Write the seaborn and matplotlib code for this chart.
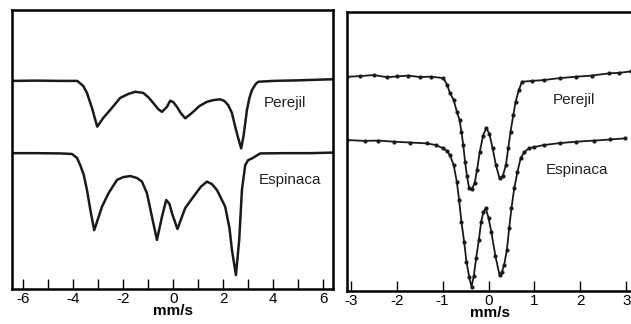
import numpy as np
import pandas as pd
import matplotlib
matplotlib.use("Agg")
import matplotlib.pyplot as plt
from matplotlib.ticker import MultipleLocator
import seaborn as sns

# ---- Data (velocity mm/s, transmission a.u.) ----
# Left panel: wide velocity range
perejil_w_v = [-6.45, -5.5, -4.5, -3.84, -3.6, -3.45, -3.25, -3.04, -2.8, -2.52, -2.12, -1.8,
               -1.52, -1.2, -1.0, -0.8, -0.6, -0.45, -0.25, -0.12, 0.0, 0.15, 0.3, 0.48, 0.65,
               0.8, 1.05, 1.35, 1.6, 1.88, 2.05, 2.2, 2.35, 2.48, 2.6, 2.72, 2.82, 2.95, 3.05,
               3.15, 3.3, 3.41, 4.0, 5.0, 6.4]
perejil_w_t = [74.6, 74.7, 74.6, 74.6, 72.8, 70.3, 64.9, 58.2, 61.3, 64.2, 68.5, 69.9,
               70.7, 70.3, 68.8, 66.7, 64.5, 63.5, 65.3, 67.5, 67.0, 65.3, 63.1, 61.2, 62.4,
               63.5, 65.6, 67.1, 67.7, 68.0, 67.4, 65.9, 63.1, 58.2, 54.1, 50.4, 55.2, 64.2, 68.5,
               71.3, 73.5, 74.3, 74.6, 74.8, 75.2]

espinaca_w_v = [-6.45, -5.5, -4.5, -4.05, -3.85, -3.72, -3.58, -3.45, -3.3, -3.16, -3.0, -2.85,
                -2.59, -2.25, -2.0, -1.72, -1.45, -1.25, -1.05, -0.85, -0.65, -0.45, -0.28,
                -0.15, -0.05, 0.17, 0.3, 0.48, 0.81, 1.1, 1.35, 1.55, 1.75, 2.08, 2.25, 2.35,
                2.51, 2.64, 2.75, 2.88, 3.0, 3.15, 3.48, 4.5, 5.5, 6.4]
espinaca_w_t = [48.7, 48.7, 48.6, 48.4, 47.0, 44.4, 40.9, 35.5, 27.6, 21.1, 25.4, 29.5,
                34.3, 39.1, 40.1, 40.5, 39.8, 38.5, 34.3, 25.9, 17.6, 25.9, 31.9,
                30.5, 27.2, 21.5, 24.7, 29.0, 33.1, 36.6, 38.5, 37.6, 35.5, 29.5, 21.9, 14.0,
                5.0, 17.6, 35.5, 44.4, 46.2, 46.8, 48.6, 48.7, 48.7, 48.9]

# Right panel: narrow velocity range
perejil_n_v = [-3.08, -2.8, -2.5, -2.2, -2.0, -1.75, -1.5, -1.25, -0.98, -0.9, -0.84, -0.76,
               -0.69, -0.63, -0.59, -0.55, -0.51, -0.47, -0.42, -0.36, -0.3, -0.25, -0.19,
               -0.12, -0.05, 0.02, 0.09, 0.16, 0.24, 0.31, 0.38, 0.43, 0.48, 0.54, 0.59,
               0.66, 0.73, 0.95, 1.2, 1.55, 1.91, 2.25, 2.62, 2.85, 3.1]
perejil_n_t = [76.8, 77.0, 77.4, 76.6, 76.9, 77.2, 76.7, 76.8, 76.3, 73.8, 71.0, 68.5,
               64.3, 61.3, 57.1, 52.3, 46.3, 41.2, 36.8, 36.6, 38.7, 43.4, 49.9,
               55.6, 58.4, 56.3, 51.1, 45.2, 40.4, 41.2, 45.2, 51.3, 57.1, 63.1, 67.8,
               72.0, 75.0, 75.3, 75.6, 76.3, 76.8, 77.2, 78.0, 78.2, 78.7]

espinaca_n_v = [-3.08, -2.7, -2.4, -2.05, -1.7, -1.34, -1.15, -0.98, -0.91, -0.84, -0.76,
                -0.69, -0.64, -0.59, -0.53, -0.48, -0.42, -0.37, -0.32, -0.27, -0.21, -0.16,
                -0.11, -0.06, 0.0, 0.06, 0.15, 0.24, 0.29, 0.34, 0.4, 0.45, 0.5, 0.56, 0.63,
                0.7, 0.78, 0.88, 1.0, 1.2, 1.55, 1.91, 2.3, 2.65, 2.98]
espinaca_n_t = [54.1, 53.8, 53.9, 53.5, 53.2, 52.9, 52.3, 51.1, 50.2, 48.7, 45.2,
                39.2, 32.6, 24.8, 17.6, 10.5, 5.0, 1.5, 5.4, 11.7, 18.3, 24.8,
                28.3, 29.6, 26.2, 21.3, 12.5, 5.7, 6.8, 9.3, 14.7, 22.5, 29.7, 36.8, 42.7,
                47.6, 49.8, 51.1, 51.6, 52.3, 53.0, 53.5, 53.9, 54.3, 54.7]

sample_names = ["Perejil", "Espinaca"]
left_ticks = [-6, -4, -2, 0, 2, 4, 6]
right_ticks = [-3, -2, -1, 0, 1, 2, 3]
x_label = "mm/s"

# ---- Build tables ----
wide = pd.concat([
    pd.DataFrame({"v": perejil_w_v, "t": perejil_w_t, "sample": sample_names[0]}),
    pd.DataFrame({"v": espinaca_w_v, "t": espinaca_w_t, "sample": sample_names[1]}),
])
narrow = pd.concat([
    pd.DataFrame({"v": perejil_n_v, "t": perejil_n_t, "sample": sample_names[0]}),
    pd.DataFrame({"v": espinaca_n_v, "t": espinaca_n_t, "sample": sample_names[1]}),
])

sns.set_theme(style="ticks")
plt.rcParams["font.family"] = ["Liberation Sans", "DejaVu Sans"]

fig = plt.figure(figsize=(6.31, 3.24), dpi=100)
axL = fig.add_axes([0.019, 0.108, 0.509, 0.861])
axR = fig.add_axes([0.550, 0.102, 0.452, 0.861])

pal = {sample_names[0]: "#1a1a1a", sample_names[1]: "#1a1a1a"}
sns.lineplot(data=wide, x="v", y="t", hue="sample", palette=pal, ax=axL,
             legend=False, linewidth=1.8, sort=False, estimator=None)
sns.lineplot(data=narrow, x="v", y="t", hue="sample", palette=pal, ax=axR,
             legend=False, linewidth=1.3, sort=False, estimator=None,
             marker="o", markersize=3, markeredgewidth=0)

axL.set_xlim(-6.45, 6.4)
axL.set_ylim(0, 100)
axR.set_xlim(-3.08, 3.13)
axR.set_ylim(0, 100)

for ax, ticks in ((axL, left_ticks), (axR, right_ticks)):
    ax.set_xticks(ticks)
    ax.set_xticklabels([str(t) for t in ticks])
    ax.set_yticks([])
    ax.set_ylabel("")
    ax.set_xlabel(x_label, fontsize=11, fontweight="bold", labelpad=-1, color="black")
    ax.tick_params(axis="x", which="both", direction="in", length=7, width=1,
                   labelsize=11, pad=2, colors="black")
    for s in ax.spines.values():
        s.set_visible(True)
        s.set_linewidth(1.8)
        s.set_color("black")

axL.xaxis.set_minor_locator(MultipleLocator(1))

axL.text(4.48, 66.7, sample_names[0], fontsize=11, ha="center", va="center", color="#222222")
axL.text(4.67, 39.1, sample_names[1], fontsize=11, ha="center", va="center", color="#222222")
axR.text(1.86, 68.5, sample_names[0], fontsize=11, ha="center", va="center", color="#222222")
axR.text(1.92, 43.4, sample_names[1], fontsize=11, ha="center", va="center", color="#222222")

fig.savefig("out.png", dpi=100, facecolor="white")
